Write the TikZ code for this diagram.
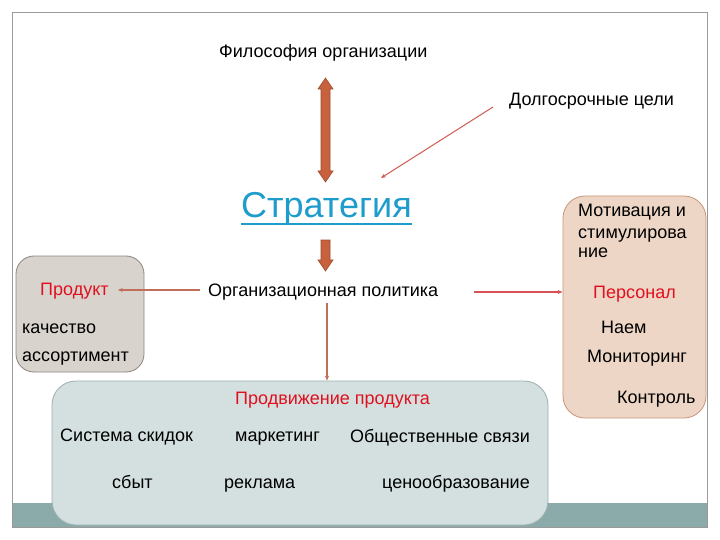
\documentclass[tikz,border=0pt]{standalone}
\usepackage{fontspec}
\setmainfont{Liberation Sans}
\usetikzlibrary{arrows.meta,calc}
\definecolor{bandc}{HTML}{8AABAA}
\definecolor{framec}{HTML}{9A9A9A}
\definecolor{grayfill}{HTML}{D9D3CE}
\definecolor{graydraw}{HTML}{8C8580}
\definecolor{peachfill}{HTML}{EDD6C6}
\definecolor{peachdraw}{HTML}{C9957A}
\definecolor{bluefill}{HTML}{D4DFDF}
\definecolor{bluedraw}{HTML}{9AAFAF}
\definecolor{thickfill}{HTML}{C8623E}
\definecolor{thickdraw}{HTML}{9E4A2C}
\definecolor{redtext}{HTML}{E0101E}
\definecolor{stratc}{HTML}{1E9CCB}
\definecolor{thinred}{HTML}{D05A50}
\definecolor{thinbrown}{HTML}{C0705A}
\definecolor{thinrose}{HTML}{D85058}
\tikzset{
  txt/.style={inner sep=0pt, anchor=base west, font=\fontsize{18}{21}\selectfont},
  redtxt/.style={txt, text=redtext},
  rbox/.style={rounded corners=20pt, line width=0.8pt, inner sep=0pt},
  thinarrow/.style={-{Stealth[length=5pt,width=4pt]}, line width=1.1pt},
  thickarrow/.style={fill=thickfill, draw=thickdraw, line width=0.6pt, line join=miter}
}
\begin{document}
\begin{tikzpicture}[x=1pt,y=-1pt]
\useasboundingbox (0,0) rectangle (720,540);
\fill[white] (0,0) rectangle (720,540);
% frame and band
\fill[bandc] (12,503) rectangle (707,527);
\draw[framec, line width=0.8pt] (12,12) rectangle (707,527);

% boxes
\node[rbox, fill=grayfill, draw=graydraw, minimum width=128pt, minimum height=116pt, rounded corners=18pt] (prodbox) at (80,314) {};
\node[rbox, fill=peachfill, draw=peachdraw, minimum width=143pt, minimum height=222pt, rounded corners=22pt] (persbox) at (634.5,307) {};
\node[rbox, fill=bluefill, draw=bluedraw, minimum width=496pt, minimum height=144pt, rounded corners=24pt] (promobox) at (300,453) {};

% top texts
\node[txt] (phil) at (219,58) {Философия организации};
\node[txt] (dolg) at (509,106) {Долгосрочные цели};
\node[inner sep=0pt, anchor=base west, text=stratc, font=\fontsize{36}{40}\selectfont] (strat) at (241,218) {Стратегия};
\draw[stratc, line width=2pt] (strat.base west) ++(0,6) -- ($(strat.base east)+(0,6)$);
\node[txt] (org) at (208,296) {Организационная политика};

% product box
\node[redtxt] (prod) at (40,295) {Продукт};
\node[txt] (kach) at (22,333) {качество};
\node[txt] (assort) at (22,361) {ассортимент};

% personnel box
\node[txt] (mot1) at (578,217) {Мотивация и};
\node[txt] (mot2) at (578,238) {стимулирова};
\node[txt] (mot3) at (578,258) {ние};
\node[redtxt] (pers) at (593,298) {Персонал};
\node[txt] (naem) at (601,333) {Наем};
\node[txt] (monit) at (587,362) {Мониторинг};
\node[txt] (kontr) at (617,403) {Контроль};

% promotion box
\node[redtxt] (promo) at (235,404) {Продвижение продукта};
\node[txt] (skid) at (60,441) {Система скидок};
\node[txt] (mark) at (235,441) {маркетинг};
\node[txt, anchor=base east] (obsch) at (530,442) {Общественные связи};
\node[txt] (sbyt) at (112,488) {сбыт};
\node[txt] (rekl) at (224,488) {реклама};
\node[txt, anchor=base east] (cen) at (530,488) {ценообразование};

% thick double arrow between philosophy and strategy
\coordinate (dA) at (325.5,78);
\coordinate (dB) at (325.5,182);
\filldraw[thickarrow] (dA) -- ++(7.5,11) -- ++(-3,0) -- ($(dB)+(4.5,-11)$) -- ++(3,0) -- (dB)
  -- ++(-7.5,-11) -- ++(3,0) -- ($(dA)+(-4.5,11)$) -- ++(-3,0) -- cycle;
% thick down arrow strategy -> organisational policy
\coordinate (sA) at (325.5,240);
\coordinate (sB) at (325.5,271);
\filldraw[thickarrow] ($(sA)+(-4.5,0)$) -- ($(sA)+(4.5,0)$) -- ($(sB)+(4.5,-11)$) -- ++(3,0) -- (sB)
  -- ++(-7.5,-11) -- ++(3,0) -- cycle;

% thin connectors
\draw[thinarrow, thinred, line width=1pt] ($(dolg.base west)+(-16,1)$) -- ($(strat.base east)+(-31,-40)$);
\coordinate (ls) at ($(org.base west)+(-8,-6)$);
\coordinate (lx) at ($(prod.base east)+(9,0)$);
\draw[thinarrow, thinbrown, line width=2pt] (ls) -- (lx |- ls);
\coordinate (rs) at ($(org.base east)+(36,-4)$);
\draw[thinarrow, thinrose, line width=2pt] (rs) -- (persbox.west |- rs);
\coordinate (ds) at (327,303);
\draw[thinarrow, thinbrown, line width=1.4pt] (ds) -- (ds |- promobox.north);
\end{tikzpicture}
\end{document}
